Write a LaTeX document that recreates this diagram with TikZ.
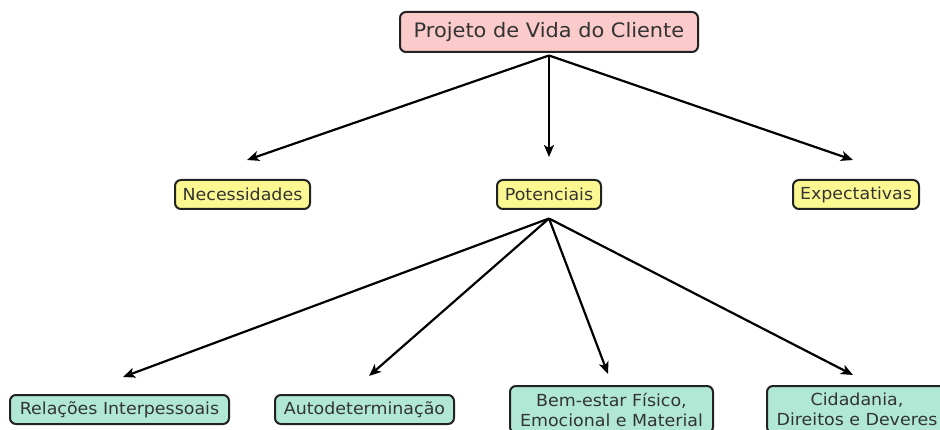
\documentclass[tikz,border=0pt]{standalone}
\usepackage{fontspec}
\setmainfont{DejaVu Sans}[FakeStretch=1.05]
\usetikzlibrary{arrows.meta}
\definecolor{pinkbox}{HTML}{FBCACA}
\definecolor{yellowbox}{HTML}{FBF891}
\definecolor{mintbox}{HTML}{B0E8D5}
\definecolor{edgec}{HTML}{222222}
\definecolor{txtc}{HTML}{333333}
\tikzset{
  box/.style={draw=edgec, line width=2pt, rounded corners=6pt, text=txtc,
    inner sep=0pt, align=center},
  topbox/.style={box, fill=pinkbox, font=\fontsize{19.9}{23}\selectfont},
  midbox/.style={box, fill=yellowbox, font=\fontsize{16.6}{20}\selectfont},
  lowbox/.style={box, fill=mintbox, font=\fontsize{16.6}{20}\selectfont},
  conn/.style={line width=2.2pt, black, -{Stealth[length=12pt,width=10pt,inset=3pt]}}
}
\begin{document}
\begin{tikzpicture}[x=1pt,y=-1pt]
\useasboundingbox (0,0) rectangle (940,430);
\clip (0,0) rectangle (940,430);
\node[topbox, minimum width=298pt, minimum height=40pt] (top) at (549,32) {Projeto de Vida do Cliente};
\node[midbox, minimum width=135pt, minimum height=29pt] (nec) at (242.5,194.5) {Necessidades};
\node[midbox, minimum width=104pt, minimum height=29pt] (pot) at (549,194.5) {Potenciais};
\node[midbox, minimum width=126pt, minimum height=29pt] (exp) at (856,194.5) {Expectativas};
\node[lowbox, minimum width=219pt, minimum height=29pt] (rel) at (119.5,409.5) {Relações Interpessoais};
\node[lowbox, minimum width=179pt, minimum height=29pt] (aut) at (364.5,409.5) {Autodeterminação};
\node[lowbox, minimum width=203pt, minimum height=47pt] (bem) at (611.5,409.5) {Bem-estar Físico,\\Emocional e Material};
\node[lowbox, minimum width=180pt, minimum height=47pt] (cid) at (857,409.5) {Cidadania,\\Direitos e Deveres};
\coordinate (topS) at ([yshift=-2.5pt]top.south);
\coordinate (potS) at ([yshift=-8.5pt]pot.south);
\coordinate (necE) at (247,160);
\coordinate (potE) at (549,157);
\coordinate (expE) at (853,160);
\coordinate (relE) at (123,377);
\coordinate (autE) at (369,376);
\coordinate (bemE) at (608,374);
\coordinate (cidE) at (853,375);
\draw[conn] (topS) -- (necE);
\draw[conn] (topS) -- (potE);
\draw[conn] (topS) -- (expE);
\draw[conn] (potS) -- (relE);
\draw[conn] (potS) -- (autE);
\draw[conn] (potS) -- (bemE);
\draw[conn] (potS) -- (cidE);
\end{tikzpicture}
\end{document}
